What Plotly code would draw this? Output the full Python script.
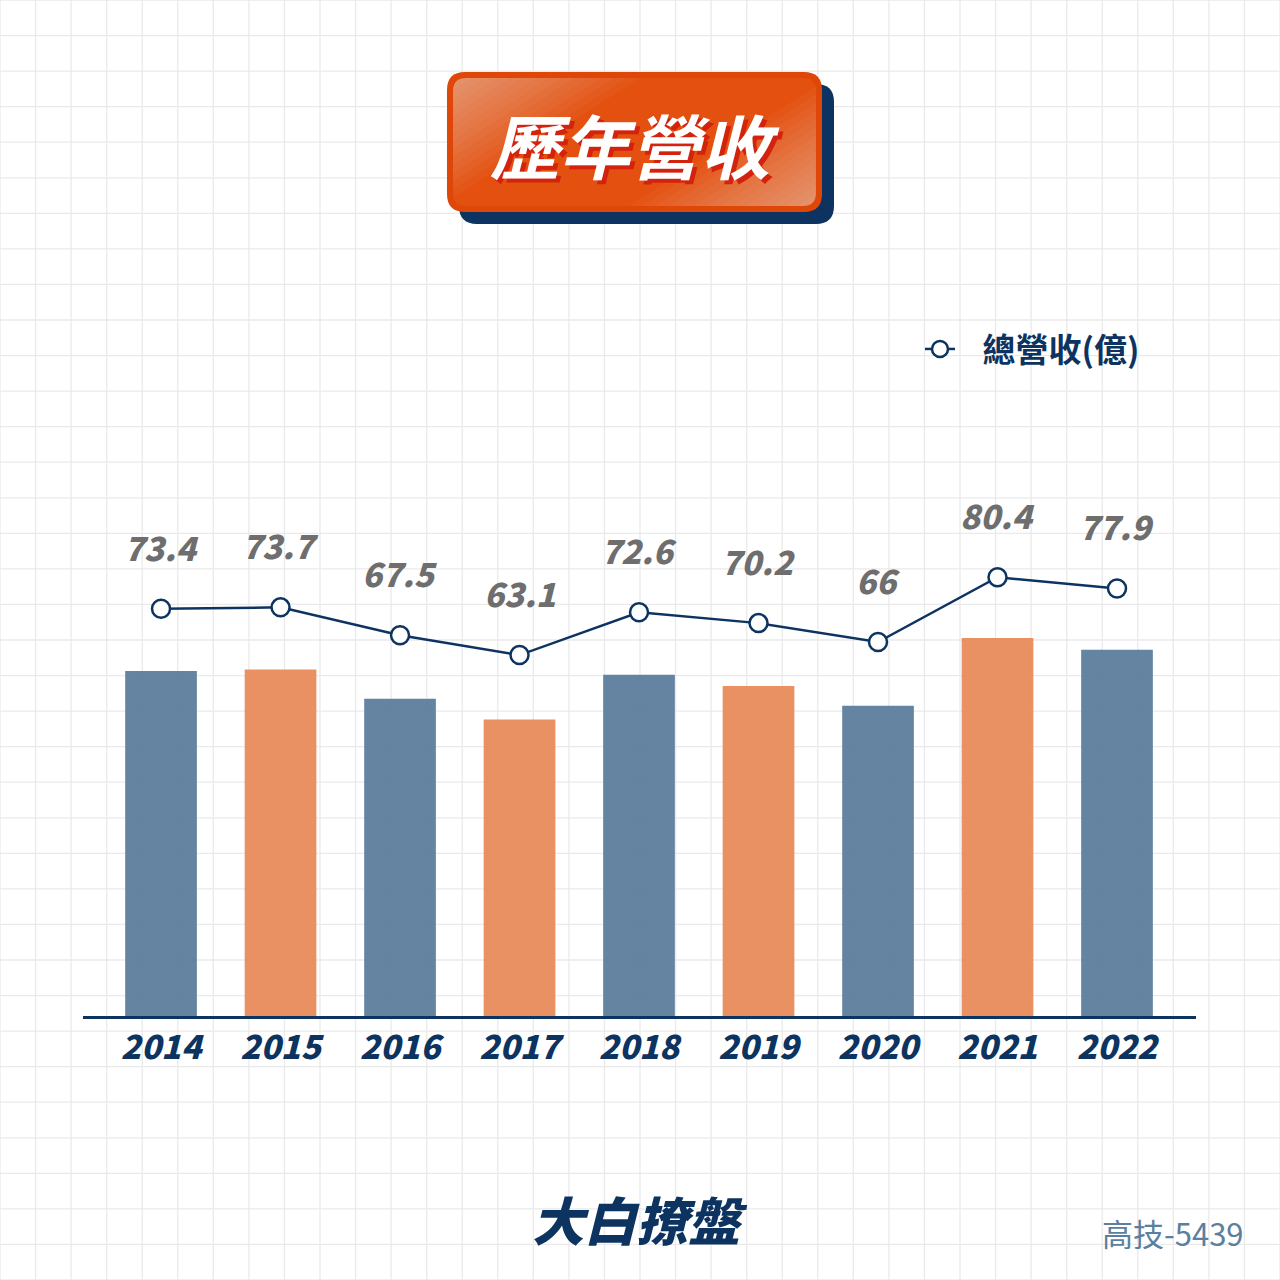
import plotly.graph_objects as go

# ---------------- data ----------------
years = ["2014", "2015", "2016", "2017", "2018", "2019", "2020", "2021", "2022"]
revenue = [73.4, 73.7, 67.5, 63.1, 72.6, 70.2, 66, 80.4, 77.9]
value_labels = ["73.4", "73.7", "67.5", "63.1", "72.6", "70.2", "66", "80.4", "77.9"]
series_name = "總營收(億)"
title_text = "歷年營收"
brand_text = "大白撩盤"
stock_text = "高技-5439"

# ---------------- layout constants ----------------
W, H = 1280, 1280
ML, MR, MT, MB = 83, 84, 300, 264
PW = W - ML - MR
PH = H - MT - MB

NAVY = "#0d3360"
BLUE = "rgba(88,122,153,0.92)"
ORANGE = "rgba(232,136,86,0.92)"
bar_colors = [BLUE if i % 2 == 0 else ORANGE for i in range(len(years))]

CJK = "Noto Sans CJK TC"


def fx(p):
    return (p - ML) / PW


def fy(p):
    return (H - MB - p) / PH


def pt(x, y):
    return f"{fx(x):.5f},{fy(y):.5f}"


def rrect(x0, y0, x1, y1, r):
    return (f"M{pt(x0 + r, y0)} L{pt(x1 - r, y0)} Q{pt(x1, y0)} {pt(x1, y0 + r)} "
            f"L{pt(x1, y1 - r)} Q{pt(x1, y1)} {pt(x1 - r, y1)} "
            f"L{pt(x0 + r, y1)} Q{pt(x0, y1)} {pt(x0, y1 - r)} "
            f"L{pt(x0, y0 + r)} Q{pt(x0, y0)} {pt(x0 + r, y0)} Z")


shapes = []
# background grid
step = W / 36
segs = []
for k in range(37):
    v = k * step
    segs.append(f"M{pt(v, 0)} L{pt(v, H)}")
    segs.append(f"M{pt(0, v)} L{pt(W, v)}")
shapes.append(dict(type="path", path=" ".join(segs), xref="paper", yref="paper",
                   line=dict(color="#eaeaea", width=1.3), layer="below"))

# title badge
shapes.append(dict(type="path", path=rrect(459, 84, 834, 224, 18), xref="paper", yref="paper",
                   fillcolor=NAVY, line=dict(width=0), layer="above"))
shapes.append(dict(type="path", path=rrect(447, 72, 822, 212, 18), xref="paper", yref="paper",
                   fillcolor="#de4708", line=dict(width=0), layer="above"))
shapes.append(dict(type="path", path=rrect(453, 78, 816, 206, 13), xref="paper", yref="paper",
                   fillcolor="#e3500f", line=dict(width=0), layer="above"))
r = 13
N = 14
for k in range(1, N + 1):
    a, b = 200 - 13 * k, 128 - 8.2 * k
    # top-left highlight
    p = (f"M{pt(453, 78 + b)} L{pt(453, 78 + r)} Q{pt(453, 78)} {pt(453 + r, 78)} "
         f"L{pt(453 + a, 78)} Z")
    shapes.append(dict(type="path", path=p, xref="paper", yref="paper",
                       fillcolor="rgba(255,255,255,0.035)", line=dict(width=0), layer="above"))
    # bottom-right highlight
    p = (f"M{pt(816, 206 - b)} L{pt(816, 206 - r)} Q{pt(816, 206)} {pt(816 - r, 206)} "
         f"L{pt(816 - a, 206)} Z")
    shapes.append(dict(type="path", path=p, xref="paper", yref="paper",
                       fillcolor="rgba(255,255,255,0.035)", line=dict(width=0), layer="above"))

fig = go.Figure()
fig.add_trace(go.Bar(
    x=years, y=revenue, marker=dict(color=bar_colors, line=dict(width=0)),
    width=0.6, showlegend=False, yaxis="y", hoverinfo="skip"))
fig.add_trace(go.Scatter(
    x=years, y=revenue, yaxis="y2", mode="lines+markers", name="\u00a0\u00a0\u00a0" + series_name,
    line=dict(color=NAVY, width=2.5),
    marker=dict(size=18, color="white", line=dict(color=NAVY, width=2.5)),
    showlegend=True))

annotations = []
for i, (v, lab) in enumerate(zip(revenue, value_labels)):
    annotations.append(dict(x=i, y=v, xref="x", yref="y2", text=lab, showarrow=False,
                            yshift=62, xanchor="center", yanchor="middle",
                            font=dict(family=CJK, size=33, color="#6e6e6e", weight=900,
                                      style="italic")))

# title text with shadow
annotations.append(dict(x=fx(635), y=fy(143), xref="paper", yref="paper", text=title_text,
                        showarrow=False, xanchor="center", yanchor="middle",
                        font=dict(family=CJK, size=70, color="white", weight="bold",
                                  style="italic", shadow="4px 4px 0px #d3230f")))
# brand & stock
annotations.append(dict(x=fx(640), y=fy(1218), xref="paper", yref="paper", text=brand_text,
                        showarrow=False, xanchor="center", yanchor="middle",
                        font=dict(family=CJK, size=52, color=NAVY, weight=900,
                                  style="italic")))
annotations.append(dict(x=fx(1246), y=fy(1232), xref="paper", yref="paper", text=stock_text,
                        showarrow=False, xanchor="right", yanchor="middle",
                        font=dict(family=CJK, size=31, color="#5b7fa1")))

fig.update_layout(
    width=W, height=H,
    margin=dict(l=ML, r=MR, t=MT, b=MB, pad=0),
    paper_bgcolor="white", plot_bgcolor="rgba(0,0,0,0)",
    shapes=shapes, annotations=annotations,
    bargap=0.4,
    xaxis=dict(type="category", range=[-0.653, 8.661], showgrid=False, zeroline=False,
               showline=True, linecolor=NAVY, linewidth=3, ticks="",
               ticklabelstandoff=0,
               tickfont=dict(family=CJK, size=33, color=NAVY, weight=900, style="italic")),
    yaxis=dict(range=[0, PH / 4.70], visible=False, fixedrange=True),
    yaxis2=dict(range=[-17.1, 142.0], visible=False, overlaying="y", side="right"),
    legend=dict(x=fx(920), y=fy(349), xanchor="left", yanchor="middle",
                bgcolor="rgba(0,0,0,0)", borderwidth=0,
                font=dict(family=CJK, size=33, color=NAVY, weight="bold")),
    showlegend=True,
)

fig.write_html("out.html")
